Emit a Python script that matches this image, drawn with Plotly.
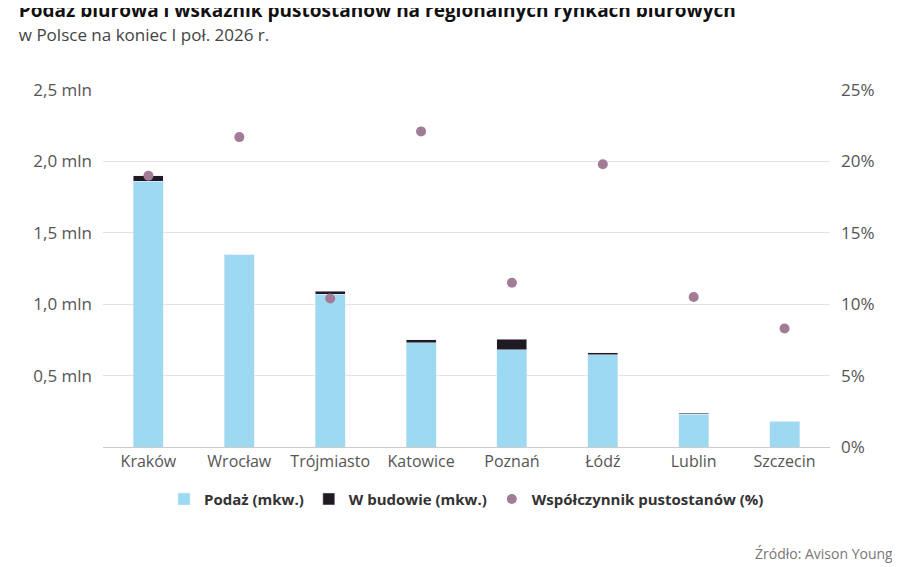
import plotly.graph_objects as go

cities = ["Kraków", "Wrocław", "Trójmiasto", "Katowice", "Poznań", "Łódź", "Lublin", "Szczecin"]
supply = [1.86, 1.345, 1.07, 0.73, 0.68, 0.645, 0.23, 0.18]
construction = [0.04, 0.0, 0.02, 0.02, 0.076, 0.015, 0.008, 0.0]
vacancy = [19.0, 21.7, 10.4, 22.1, 11.5, 19.8, 10.5, 8.3]

left_ticks = [0.5, 1.0, 1.5, 2.0, 2.5]
left_labels = ["0,5 mln", "1,0 mln", "1,5 mln", "2,0 mln", "2,5 mln"]
right_ticks = [0, 5, 10, 15, 20, 25]
right_labels = ["0%", "5%", "10%", "15%", "20%", "25%"]

fig = go.Figure()
fig.add_bar(x=cities, y=supply, name="<b>Podaż (mkw.)</b>", marker_color="#9dd9f0", width=0.33)
fig.add_bar(x=cities, y=construction, name="<b>W budowie (mkw.)</b>", marker_color="#1f1a24", width=0.33)
fig.add_scatter(x=cities, y=vacancy, name="<b>Współczynnik pustostanów (%)</b>", mode="markers",
                marker=dict(color="#a27b97", size=10), yaxis="y2")

fig.update_layout(
    barmode="stack",
    width=900, height=567,
    font=dict(family="Open Sans", size=16, color="#555"),
    plot_bgcolor="white", paper_bgcolor="white",
    margin=dict(l=95, r=78, t=82, b=128),
    title=dict(text="<b>Podaż biurowa i wskaźnik pustostanów na regionalnych rynkach biurowych</b>"
                    "<br><span style='font-size:17px;color:#444'>w Polsce na koniec I poł. 2026 r.</span>",
               x=0.012, y=0.985, xanchor="left", yanchor="top",
               font=dict(size=19, color="#111")),
    xaxis=dict(showline=True, linecolor="#ccc", tickfont=dict(size=16, color="#555")),
    yaxis=dict(range=[0, 2.5], tickvals=left_ticks, ticktext=left_labels, gridcolor="#e3e3e3",
               zeroline=False, ticklabelstandoff=10, tickfont=dict(size=17)),
    yaxis2=dict(range=[0, 25], tickvals=right_ticks, ticktext=right_labels, overlaying="y",
                side="right", showgrid=False, zeroline=False, ticklabelstandoff=10,
                tickfont=dict(size=17)),
    legend=dict(orientation="h", traceorder="normal", x=0.5, xanchor="center", y=-0.1,
                yanchor="top", font=dict(size=15, color="#333")),
    annotations=[dict(text="Źródło: Avison Young", x=1.09, y=-0.33, xref="paper", yref="paper",
                      xanchor="right", yanchor="bottom", showarrow=False,
                      font=dict(size=14, color="#777"))],
)

fig.write_html("out.html")
